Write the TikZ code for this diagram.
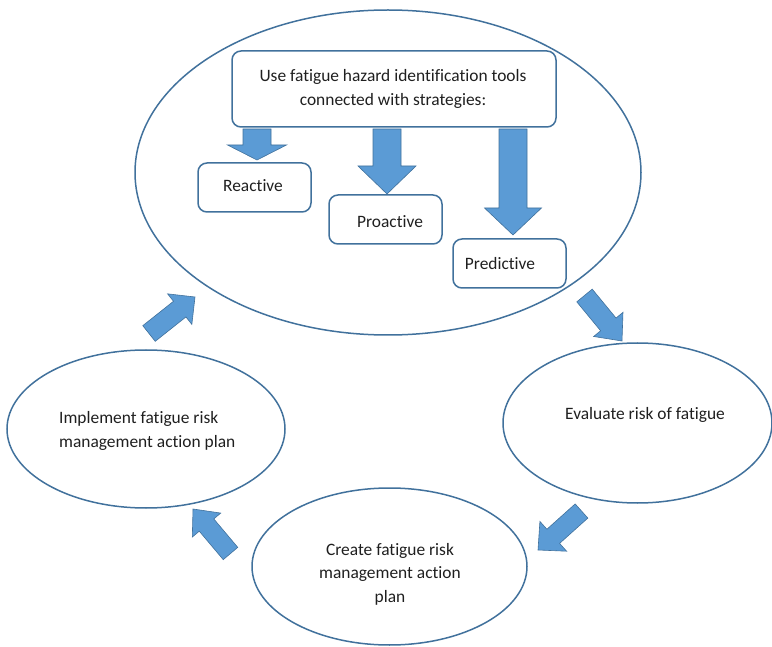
\documentclass[tikz,border=0pt]{standalone}
\usepackage{fontspec}
\setmainfont[Ligatures=NoCommon]{Carlito}
\usetikzlibrary{shapes.geometric,calc}
\definecolor{olblue}{RGB}{65,113,156}
\definecolor{fillblue}{RGB}{91,155,213}
\newcommand\blockarrow[5]{%
  \coordinate (#1-h) at ($(#2)!#5!(#1)$);
  \draw[barrow] ($(#1)!#3!90:(#2)$) -- ($(#1-h)!#3!90:(#2)$) -- ($(#1-h)!#4!90:(#2)$)
     -- (#2) -- ($(#1-h)!#4!-90:(#2)$) -- ($(#1-h)!#3!-90:(#2)$) -- ($(#1)!#3!-90:(#2)$) -- cycle;}
\begin{document}
\begin{tikzpicture}[x=1pt,y=-1pt,
  ring/.style={draw=olblue, line width=1.5pt, ellipse, inner sep=0pt},
  tbox/.style={draw=olblue, line width=1.5pt, rounded corners=9pt, inner sep=0pt},
  lbl/.style={font=\fontsize{17.4}{23.5}\selectfont, align=center, inner sep=0pt, text=black!88},
  barrow/.style={fill=fillblue, draw=olblue, line width=0.6pt, line join=miter}]
\useasboundingbox (0,0) rectangle (772,647);

% ellipses
\node[ring, minimum width=506pt, minimum height=325pt] (big) at (388,172.5) {};
\node[ring, minimum width=278pt, minimum height=158pt] (impl) at (146,429) {};
\node[ring, minimum width=269pt, minimum height=160pt] (eval) at (637.5,423) {};
\node[ring, minimum width=275pt, minimum height=157pt] (create) at (389.5,566.5) {};

% boxes
\node[tbox, minimum width=324pt, minimum height=76pt] (top) at (394,89) {};
\node[tbox, minimum width=113pt, minimum height=49pt] (reac) at (254.5,187.5) {};
\node[tbox, minimum width=113pt, minimum height=49pt] (proa) at (385.5,219.5) {};
\node[tbox, minimum width=113pt, minimum height=49pt] (pred) at (509.5,263.5) {};

% texts
\node[lbl] (toptxt) at (393,89) {Use fatigue hazard identification tools\\connected with strategies:};
\node[lbl] (reactxt) at (253,186) {Reactive};
\node[lbl] (proatxt) at (390,222) {Proactive};
\node[lbl] (predtxt) at (500,264) {Predictive};
\node[lbl, align=left, anchor=west] (impltxt) at (59,431) {Implement fatigue risk\\management action plan};
\node[lbl] (evaltxt) at (645,415) {Evaluate risk of fatigue};
\node[lbl] (createtxt) at (390,574) {Create fatigue risk\\management action\\plan};

% down arrows
\coordinate (t1) at (257,129); \coordinate (p1) at (257,160);
\coordinate (t2) at (387,129); \coordinate (p2) at (387,194);
\coordinate (t3) at (513,129); \coordinate (p3) at (513,235);
\blockarrow{t1}{p1}{14pt}{29.5pt}{15pt}
\blockarrow{t2}{p2}{14pt}{29pt}{28pt}
\blockarrow{t3}{p3}{14pt}{28.5pt}{27pt}

% cycle arrows
\coordinate (ta) at (584.5,295.5); \coordinate (pa) at (622,341);
\coordinate (tb) at (581.5,511);   \coordinate (pb) at (538,550);
\coordinate (tc) at (230.5,553.5); \coordinate (pc) at (193,509);
\coordinate (td) at (149,333.5);   \coordinate (pd) at (195,297);
\blockarrow{ta}{pa}{10pt}{19pt}{21.5pt}
\blockarrow{tb}{pb}{9.5pt}{20pt}{20.5pt}
\blockarrow{tc}{pc}{9.5pt}{18.6pt}{21pt}
\blockarrow{td}{pd}{10pt}{19.5pt}{19.5pt}
\end{tikzpicture}
\end{document}
